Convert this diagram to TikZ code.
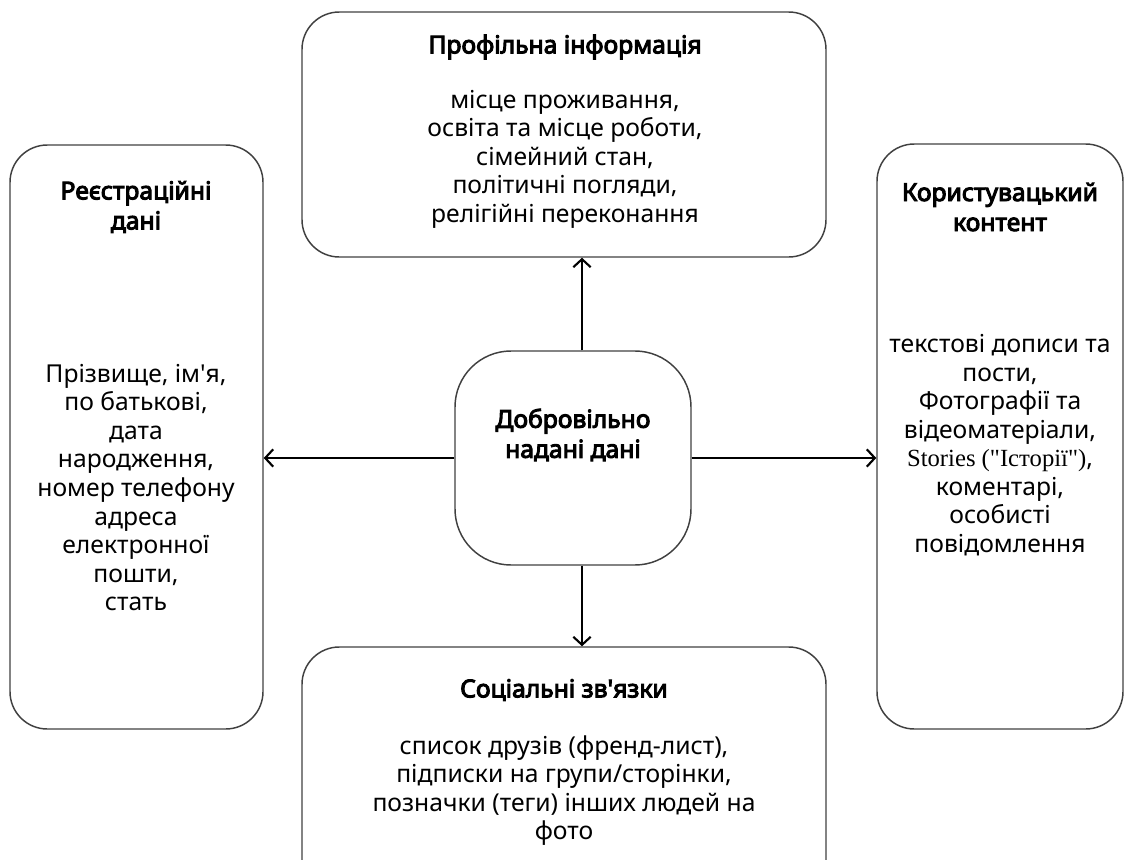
\documentclass[tikz,border=0pt]{standalone}
\usepackage{fontspec}
\setmainfont{Noto Sans}[Ligatures=TeXOff]
\newfontfamily\boldx{Noto Sans}[Ligatures=TeXOff,FakeBold=4]
\newfontfamily\serifx{Liberation Serif}[Ligatures=TeXOff]
\usetikzlibrary{arrows.meta}
\begin{document}
\begin{tikzpicture}[x=0.75pt,y=-0.75pt,
  box/.style={draw=black!75, line width=1.1pt, rounded corners=28pt, inner sep=0pt},
  cbox/.style={box, rounded corners=42pt},
  lbl/.style={align=center, font=\fontsize{18.5}{21.4}\selectfont, inner sep=0pt},
  ttl/.style={align=center, font=\fontsize{18.5}{22.5}\selectfont\boldx, inner sep=0pt},
  arr/.style={line width=1.6pt, -{Straight Barb[length=6pt,width=13pt]}}]
\clip (0,0) rectangle (1129,860);
\useasboundingbox (0,0) rectangle (1129,860);
% boxes
\node[box, minimum width=524*0.75pt, minimum height=245*0.75pt] (top) at (564,134.5) {};
\node[box, minimum width=253*0.75pt, minimum height=584*0.75pt] (left) at (136.5,437) {};
\node[box, minimum width=246*0.75pt, minimum height=585*0.75pt] (right) at (1000,436.5) {};
\node[cbox, minimum width=236*0.75pt, minimum height=214*0.75pt] (mid) at (573,458) {};
\node[box, minimum width=524*0.75pt, minimum height=300*0.75pt] (bot) at (564,797) {};
% texts
\node[ttl] (toptitle) at (565,47) {Профільна інформація};
\node[lbl] (toptext) at (565,159) {місце проживання,\\освіта та місце роботи,\\сімейний стан,\\політичні погляди,\\релігійні переконання};
\node[ttl] (lefttitle) at (136,207) {Реєстраційні\\дані};
\node[lbl] (lefttext) at (136,487.5) {Прізвище, ім'я,\\по батькові,\\дата\\народження,\\номер телефону\\адреса\\електронної\\пошти,\\стать};
\node[ttl] (righttitle) at (1000,207) {Користувацький\\контент};
\node[lbl] (righttext) at (1000,445) {текстові дописи та\\пости,\\Фотографії та\\відеоматеріали,\\{\serifx Stories ("Історії")},\\коментарі,\\особисті\\повідомлення};
\node[ttl] (midtitle) at (573,435) {Добровільно\\надані дані};
\node[ttl] (bottitle) at (564,690) {Соціальні зв'язки};
\node[lbl] (bottext) at (564,790.5) {список друзів (френд-лист),\\підписки на групи/сторінки,\\позначки (теги) інших людей на\\фото};
% arrows
\coordinate (ax) at (582,0);
\draw[arr] (mid.north -| ax) -- (top.south -| ax);
\draw[arr] (mid.south -| ax) -- (bot.north -| ax);
\draw[arr] (mid.west) -- (left.east |- mid.west);
\draw[arr] (mid.east) -- (right.west |- mid.east);
\end{tikzpicture}
\end{document}
